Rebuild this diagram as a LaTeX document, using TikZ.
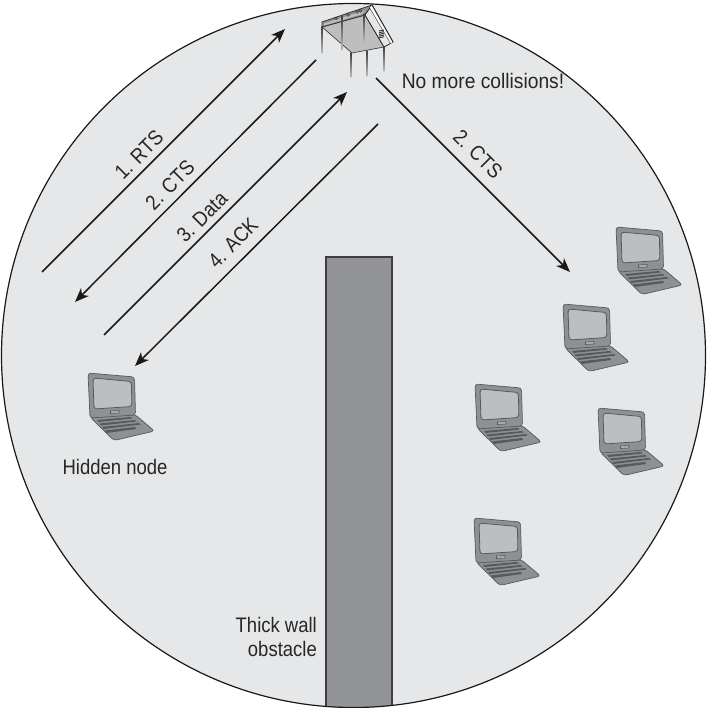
\documentclass[tikz,border=0pt]{standalone}
\usepackage{fontspec}
\setmainfont[FakeStretch=0.88]{Liberation Sans}
\usetikzlibrary{arrows.meta}
\definecolor{disc}{HTML}{E6E7E8}
\definecolor{wallc}{HTML}{929497}
\definecolor{lapdark}{HTML}{8E9092}
\definecolor{lapscreen}{HTML}{BCBEC0}
\definecolor{lapline}{HTML}{58595B}
\tikzset{
  sig/.style={line width=1.5pt,draw=black!90},
  sigarrow/.style={sig,-{Stealth[length=14pt,width=11pt,inset=4pt]}},
  lbl/.style={font=\fontsize{21pt}{24pt}\selectfont,text=black!85,inner sep=0pt},
  leg/.style={top color=black!75,bottom color=black!25,draw=none},
  laptop/.pic={
    \draw[draw=lapline,fill=lapdark,line width=.7pt,rounded corners=3pt]
      (2,44) -- (47,41.5) -- (66.5,58) -- (26,67.5) -- cycle;
    \fill[lapline] (9,47) -- (43,44) -- (44.5,45.5) -- (10.5,49) -- cycle;
    \fill[lapline] (11.5,50.5) -- (47,47) -- (48.5,48.5) -- (13,52.5) -- cycle;
    \fill[lapline] (14,54) -- (51,50) -- (52.5,51.5) -- (15.5,56) -- cycle;
    \fill[lapline] (16.5,57.5) -- (47,54) -- (48,56) -- (33,58) -- (19,60) -- cycle;
    \draw[draw=lapline,fill=lapdark,line width=.7pt,rounded corners=3pt]
      (0,0) -- (46.5,4) -- (47.5,42) -- (2,45) -- cycle;
    \draw[draw=lapline,fill=lapscreen,line width=.8pt,rounded corners=3pt]
      (5,5) -- (43.5,8.5) -- (43.8,33.5) -- (6,36) -- cycle;
    \draw[draw=lapline,fill=lapscreen!70!lapdark,line width=.6pt]
      (22.5,38) -- (31,37.5) -- (31,40) -- (22.5,40.5) -- cycle;
  }
}
\begin{document}
\begin{tikzpicture}[x=1pt,y=-1pt]
\useasboundingbox (0,0) rectangle (707,708);
% coverage disc
\fill[disc] (353.5,355.5) circle[radius=352];
% wall
\begin{scope}
\clip (353.5,355.5) circle[radius=352];
\fill[wallc] (326,257) rectangle (392,708);
\draw[lapline!70!black,line width=1.1pt] (326,708) -- (326,257) -- (392,257) -- (392,708);
\end{scope}
\draw[black!90,line width=1.2pt] (353.5,355.5) circle[radius=352];
% access point
\shade[leg] (321.6,27) rectangle (322.4,54);
\draw[draw=black!80,fill=lapscreen,line width=.6pt] (322,27) -- (352,53) -- (384,47) -- (365,15) -- cycle;
\draw[draw=black!80,fill=lapdark,line width=.8pt] (322,22) -- (372,5) -- (365,15) -- (322,27) -- cycle;
\fill[lapscreen] (324,23.5) -- (365,10.5) -- (362.5,14) -- (324,25.5) -- cycle;
\draw[draw=black!85,fill=disc,line width=.8pt] (372,5) -- (393,42) -- (384,47) -- (365,15) -- cycle;
\fill[white] (372,5) -- (393,42) -- (390.5,43.4) -- (369.8,8.1) -- cycle;
\draw[black!85,line width=.9pt] (372,5) -- (393,42);
\draw[black!70,line width=.5pt] (369.8,8.1) -- (390.5,43.4);
\foreach \dy in {0,1.7,3.4,5.1,6.8}
  \draw[black!80,line width=.9pt] (379,31+\dy) -- (384,30+\dy);
\foreach \a/\b in {336/18.5,348/15,357/12,360.5/11}
  \draw[black!80,line width=.5pt] (\a,\b) circle[radius=1.4];
\shade[leg] (341.6,16) rectangle (342.4,51);
\shade[leg] (363.6,14) rectangle (364.4,44);
\shade[leg] (350.6,53) rectangle (351.4,78);
\shade[leg] (366.6,51) rectangle (367.4,77);
\shade[leg] (383.6,47) rectangle (384.4,72);
% laptops
\pic at (88,373) {laptop};
\pic at (616,227) {laptop};
\pic at (563,304) {laptop};
\pic at (475,384) {laptop};
\pic at (598,408) {laptop};
\pic at (474,518) {laptop};
% connector ends
\coordinate (rtsA) at (42,272);  \coordinate (rtsB) at (285,29);
\coordinate (ctsA) at (316,60);  \coordinate (ctsB) at (75,302);
\coordinate (datA) at (104,335); \coordinate (datB) at (347,92);
\coordinate (ackA) at (378,124); \coordinate (ackB) at (135,366);
\coordinate (ctrA) at (376,78);  \coordinate (ctrB) at (570,272);
\draw[sigarrow] (rtsA) -- (rtsB);
\draw[sigarrow] (ctsA) -- (ctsB);
\draw[sigarrow] (datA) -- (datB);
\draw[sigarrow] (ackA) -- (ackB);
\draw[sigarrow] (ctrA) -- (ctrB);
% labels
\node[lbl,rotate=45] (l1) at (139,155) {1. RTS};
\node[lbl,rotate=45] (l2) at (170,185) {2. CTS};
\node[lbl,rotate=45] (l3) at (202,217) {3. Data};
\node[lbl,rotate=45] (l4) at (233,243) {4. ACK};
\node[lbl,rotate=-45] (l5) at (478,154) {2. CTS};
\node[lbl,xscale=1.04] (nomore) at (483,81) {No more collisions!};
\node[lbl] (hidden) at (115,467) {Hidden node};
\node[lbl,align=right,anchor=east] (thick) at (317,637) {Thick wall\\obstacle};
\end{tikzpicture}
\end{document}
